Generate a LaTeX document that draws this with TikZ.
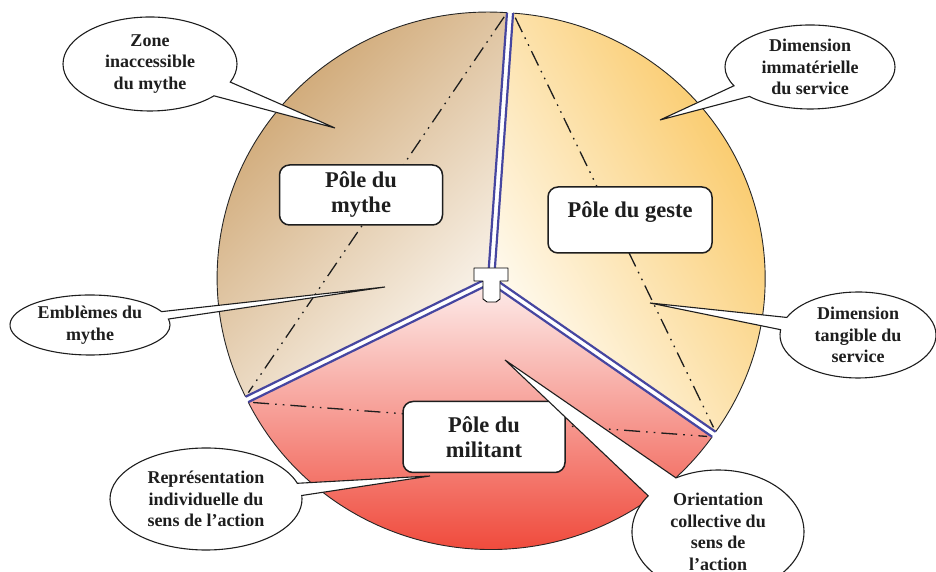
\documentclass[tikz,border=0pt]{standalone}
\usepackage{fontspec}
\setmainfont{Liberation Serif}
\usetikzlibrary{shapes.callouts,shapes.geometric}
\definecolor{mythetan}{RGB}{203,160,105}
\definecolor{mythelight}{RGB}{252,248,242}
\definecolor{gesteorange}{RGB}{249,194,84}
\definecolor{gestelight}{RGB}{255,252,244}
\definecolor{militred}{RGB}{238,52,36}
\definecolor{militmid}{RGB}{246,160,150}
\definecolor{militlight}{RGB}{253,236,234}
\definecolor{edgeblue}{RGB}{70,70,160}
\definecolor{inkgray}{RGB}{30,30,30}
\begin{document}
\begin{tikzpicture}[x=1pt,y=1pt,
  arcline/.style={draw=black!85, line width=0.9pt},
  edgeline/.style={draw=edgeblue, line width=2.2pt, line cap=butt, line join=miter},
  chord/.style={draw=inkgray, line width=1.3pt, dash pattern=on 16pt off 6pt on 1.6pt off 6pt on 1.6pt off 6pt, shorten <=5pt, shorten >=5pt},
  polebox/.style={draw=inkgray, line width=1.5pt, fill=white, rounded corners=10pt, align=center, inner sep=2pt, font=\fontsize{22.5}{25}\selectfont\bfseries, text=inkgray},
  poletext/.style={font=\fontsize{22.5}{25}\selectfont\bfseries, text=inkgray, inner sep=0pt},
  bubble/.style={ellipse callout, draw=inkgray, line width=1.1pt, fill=white, inner sep=0pt, align=center, font=\fontsize{18}{21.5}\selectfont\bfseries, text=inkgray},
  cursorshape/.style={draw=black, fill=white, line width=0.9pt, line join=round}
]
\useasboundingbox (0,0) rectangle (936,572);

% ---- sector: Pole du mythe
\begin{scope}[shift={(488.09,293.94)}]
  \coordinate (mA) at (0,0);
  \coordinate (mT) at (86:271 and 266);
  \coordinate (mL) at (206.5:271 and 266);
  \shade[top color=mythetan, bottom color=mythelight, shading angle=45]
    (mA) -- (mT) arc[start angle=86, end angle=206.5, x radius=271, y radius=266] -- cycle;
  \draw[arcline] (mT) arc[start angle=86, end angle=206.5, x radius=271, y radius=266];
  \draw[edgeline] (mT) -- (mA) -- (mL);
  \draw[chord] (mT) -- (mL);
\end{scope}

% ---- sector: Pole du geste
\begin{scope}[shift={(494.16,293.50)}]
  \coordinate (gA) at (0,0);
  \coordinate (gR) at (-35.2:271 and 266);
  \coordinate (gT) at (86:271 and 266);
  \shade[top color=gesteorange, bottom color=gestelight, shading angle=-60]
    (gA) -- (gR) arc[start angle=-35.2, end angle=86, x radius=271, y radius=266] -- cycle;
  \draw[arcline] (gR) arc[start angle=-35.2, end angle=86, x radius=271, y radius=266];
  \draw[edgeline] (gR) -- (gA) -- (gT);
  \draw[chord] (gT) -- (gR);
\end{scope}

% ---- sector: Pole du militant
\begin{scope}[shift={(490.73,288.51)}]
  \coordinate (lA) at (0,0);
  \coordinate (lL) at (206.5:271 and 266);
  \coordinate (lR) at (324.8:271 and 266);
  \shade[top color=militlight, middle color=militmid, bottom color=militred]
    (lA) -- (lL) arc[start angle=206.5, end angle=324.8, x radius=271, y radius=266] -- cycle;
  \draw[arcline] (lL) arc[start angle=206.5, end angle=324.8, x radius=271, y radius=266];
  \draw[edgeline] (lL) -- (lA) -- (lR);
  \draw[chord] (lL) -- (lR);
\end{scope}

% ---- centre handle
\draw[cursorshape] (474,304) -- (508,304) -- (508,291) -- (500,291) -- (500,273)
  -- (496,270) -- (487,270) -- (483,273) -- (483,291) -- (474,291) -- cycle;

% ---- pole boxes
\node[polebox, minimum width=163pt, minimum height=60pt] (pmythe) at (361,377) {Pôle du\\mythe};
\node[polebox, minimum width=164pt, minimum height=66pt] (pgeste) at (630,352) {};
\node[poletext] (tgeste) at ([yshift=8pt]pgeste.center) {Pôle du geste};
\node[polebox, minimum width=162pt, minimum height=71pt] (pmilit) at (484,135) {Pôle du\\militant};

% ---- callouts
\coordinate (tipzone) at (335,444);
\coordinate (tipimm) at (660,452);
\coordinate (tipemb) at (385,285);
\coordinate (tiptang) at (650,269);
\coordinate (tiprep) at (430,96);
\coordinate (tiport) at (505,212);

\node[bubble, minimum width=174pt, minimum height=94pt, callout absolute pointer={(tipzone)}, callout pointer arc=20] (czone) at (150,508) {Zone\\inaccessible\\du mythe};
\node[bubble, minimum width=170pt, minimum height=84pt, callout absolute pointer={(tipimm)}, callout pointer arc=18] (cimm) at (810,505) {Dimension\\immatérielle\\du service};
\node[bubble, minimum width=160pt, minimum height=60pt, callout absolute pointer={(tipemb)}, callout pointer arc=15] (cemb) at (90,247) {Emblèmes du\\mythe};
\node[bubble, minimum width=156pt, minimum height=86pt, callout absolute pointer={(tiptang)}, callout pointer arc=17] (ctang) at (858,237) {Dimension\\tangible du\\service};
\node[bubble, minimum width=192pt, minimum height=102pt, callout absolute pointer={(tiprep)}, callout pointer arc=14] (crep) at (206,73) {Représentation\\individuelle du\\sens de l’action};
\node[bubble, minimum width=172pt, minimum height=124pt, callout absolute pointer={(tiport)}, callout pointer arc=25] (cort) at (718,40) {Orientation\\collective du\\sens de\\l’action};
\end{tikzpicture}
\end{document}
